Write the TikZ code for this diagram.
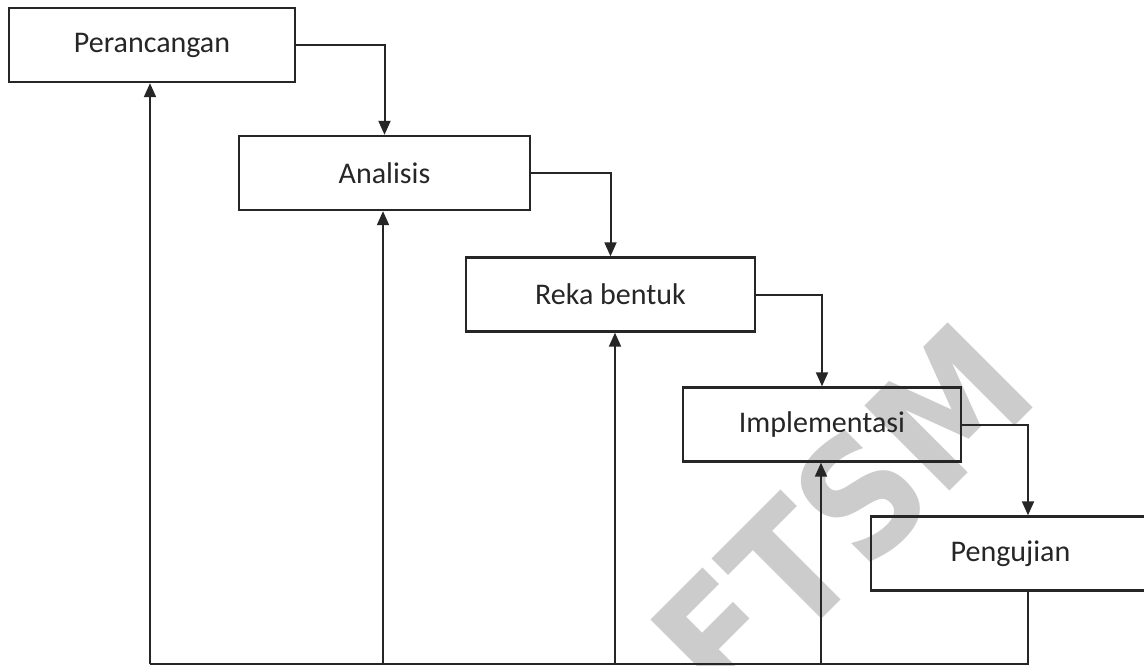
\documentclass[tikz,border=0pt]{standalone}
\usepackage{fontspec}
\setmainfont{Carlito}
\newfontfamily\wmfont[FakeStretch=0.88]{DejaVu Sans}
\usetikzlibrary{arrows.meta,calc}
\tikzset{
  box/.style={draw=black!85, line width=2.4pt, minimum height=74pt, inner sep=0pt,
    font=\fontsize{30}{36}\selectfont, text=black!85},
  conn/.style={draw=black!85, line width=2pt},
  arr/.style={conn, -{Triangle[length=14pt,width=12pt]}},
  wm/.style={text=black!20, font=\wmfont\bfseries\fontsize{165}{170}\selectfont, rotate=45, inner sep=0pt}
}
\begin{document}
\begin{tikzpicture}[x=1pt,y=-1pt]
\clip (0,0) rectangle (1144,666);
\fill[white] (0,0) rectangle (1144,666);
\node[wm] (wmark) at (842,514) {FTSM};
\node[box, minimum width=286pt] (per) at (152,45) {Perancangan};
\node[box, minimum width=291pt] (ana) at (384.5,173) {Analisis};
\node[box, minimum width=289pt] (rek) at (610.5,294.5) {Reka bentuk};
\node[box, minimum width=278pt] (imp) at (822,424.5) {Implementasi};
\node[box, minimum width=279pt] (pen) at (1010.5,553.5) {Pengujian};
\coordinate (b1) at (150,664);
\coordinate (b2) at (383,664);
\coordinate (b3) at (615,664);
\coordinate (b4) at (821,664);
\coordinate (b5) at (1028,664);
\draw[arr] (per.east) -| (ana.north);
\draw[arr] (ana.east) -| (rek.north);
\draw[arr] (rek.east) -| (imp.north);
\draw[arr] (imp.east) -| (pen.north -| b5);
\draw[conn, line width=2.4pt] (pen.south -| b5) -- (b5) -- (b1);
\draw[arr] (b1) -- (b1 |- per.south);
\draw[arr] (b2) -- (b2 |- ana.south);
\draw[arr] (b3) -- (b3 |- rek.south);
\draw[arr] (b4) -- (b4 |- imp.south);
\end{tikzpicture}
\end{document}
